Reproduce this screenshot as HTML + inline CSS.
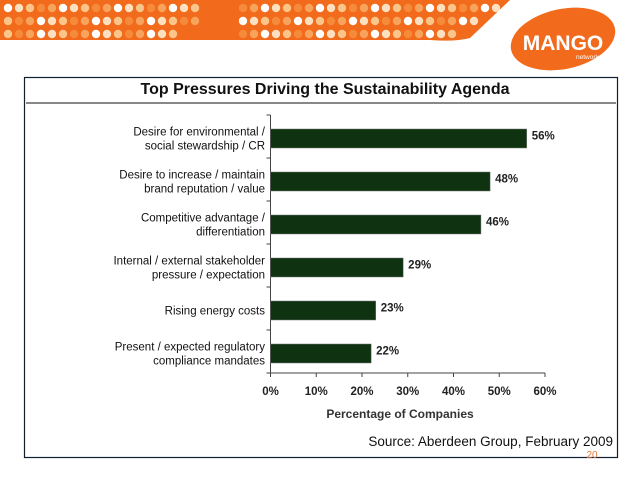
<!DOCTYPE html>
<html><head><meta charset="utf-8"><style>
body{margin:0;width:638px;height:479px;background:#fff;overflow:hidden;font-family:"Liberation Sans",sans-serif}
svg{display:block}
</style></head><body>
<svg width="638" height="479" viewBox="0 0 638 479">
<g id="banner">
<path d="M0 0 H510 L470 38 Q455 42 430 40 H0 Z" fill="#f26a1b"/>
</g>
<g id="dots"></g>
<g>
<ellipse cx="563" cy="39" rx="53" ry="30" transform="rotate(-12 563 39)" fill="#f26a1b"/>
<text x="563" y="50" text-anchor="middle" font-size="21" font-weight="bold" fill="#fff">MANGO</text>
<text x="589" y="59" text-anchor="middle" font-size="6.5" fill="#fff">networks</text>
</g>
<rect x="24.5" y="77.5" width="593" height="380" fill="none" stroke="#102030" stroke-width="1.2"/>
<line x1="26" y1="103" x2="616" y2="103" stroke="#888" stroke-width="2"/>
<text x="325" y="94" text-anchor="middle" font-size="16" font-weight="bold" fill="#111">Top Pressures Driving the Sustainability Agenda</text>
<g id="chart"></g>
<text x="400" y="418" text-anchor="middle" font-size="12" font-weight="bold" fill="#333">Percentage of Companies</text>
<text x="613" y="446" text-anchor="end" font-size="13.5" fill="#111">Source: Aberdeen Group, February 2009</text>
<text x="592" y="458" text-anchor="middle" font-size="10" fill="#e07a3a">20</text>
</svg>
<script>
const categories=[["Desire for environmental /","social stewardship / CR"],["Desire to increase / maintain","brand reputation / value"],["Competitive advantage /","differentiation"],["Internal / external stakeholder","pressure / expectation"],["Rising energy costs"],["Present / expected regulatory","compliance mandates"]];
const values=[56,48,46,29,23,22];
const ticks=[0,10,20,30,40,50,60];
const NS="http://www.w3.org/2000/svg";
const g=document.getElementById('chart');
const x0=270.5,x1=545,yTop=115,yBot=373;
const xs=v=>x0+(v-0)/(60-0)*(x1-x0);
const band=(yBot-yTop)/categories.length;
function mk(t,a){const e=document.createElementNS(NS,t);for(const k in a)e.setAttribute(k,a[k]);g.appendChild(e);return e;}
let ax=mk('line',{x1:x0,y1:yTop,x2:x0,y2:yBot,stroke:'#444','stroke-width':1});


let bx=mk('line',{x1:x0,y1:yBot,x2:x1,y2:yBot,stroke:'#444','stroke-width':1});


for(let i=0;i<=categories.length;i++){let t=mk('line',{x1:x0-4,x2:x0,y1:yTop+i*band,y2:yTop+i*band,stroke:'#444'});

}
ticks.forEach(v=>{let t=mk('line',{x1:xs(v),x2:xs(v),y1:yBot,y2:yBot+4,stroke:'#444'});


let l=mk('text',{x:xs(v),y:yBot+22,'text-anchor':'middle','font-size':11.5,'font-weight':'bold',fill:'#222'});l.textContent=v+'%';

});
values.forEach((v,i)=>{const cy=yTop+band*i+band/2+2;
let r=mk('rect',{x:x0,y:cy-9.5,width:xs(v)-x0,height:19,fill:'#0f3310',stroke:'#777','stroke-width':0.5});


let t=mk('text',{x:xs(v)+5,y:cy+1,'font-size':11.5,'font-weight':'bold',fill:'#222'});t.textContent=v+'%';


const lines=categories[i];const lab=mk('text',{x:265,'text-anchor':'end','font-size':11.5,fill:'#111'});


lines.forEach((s,j)=>{const ts=document.createElementNS(NS,'tspan');ts.setAttribute('x',265);ts.setAttribute('y',cy+4+(j-(lines.length-1)/2)*14);ts.textContent=s;lab.appendChild(ts);});});
const dg=document.getElementById('dots');
const cols=['#f7a35c','#fbc58a','#ffffff','#f58a3a','#fde0bf'];
let k=0;
[[8,0,200],[8,235,500],[21,0,205],[21,235,480],[34,0,175],[34,235,455]].forEach(([y,a,b])=>{for(let x=a+8;x<b;x+=11){k++;const c=document.createElementNS(NS,'circle');c.setAttribute('cx',x);c.setAttribute('cy',y);c.setAttribute('r',4.2);c.setAttribute('fill',cols[(k*7)%5]);dg.appendChild(c);}});
</script>
</body></html>
